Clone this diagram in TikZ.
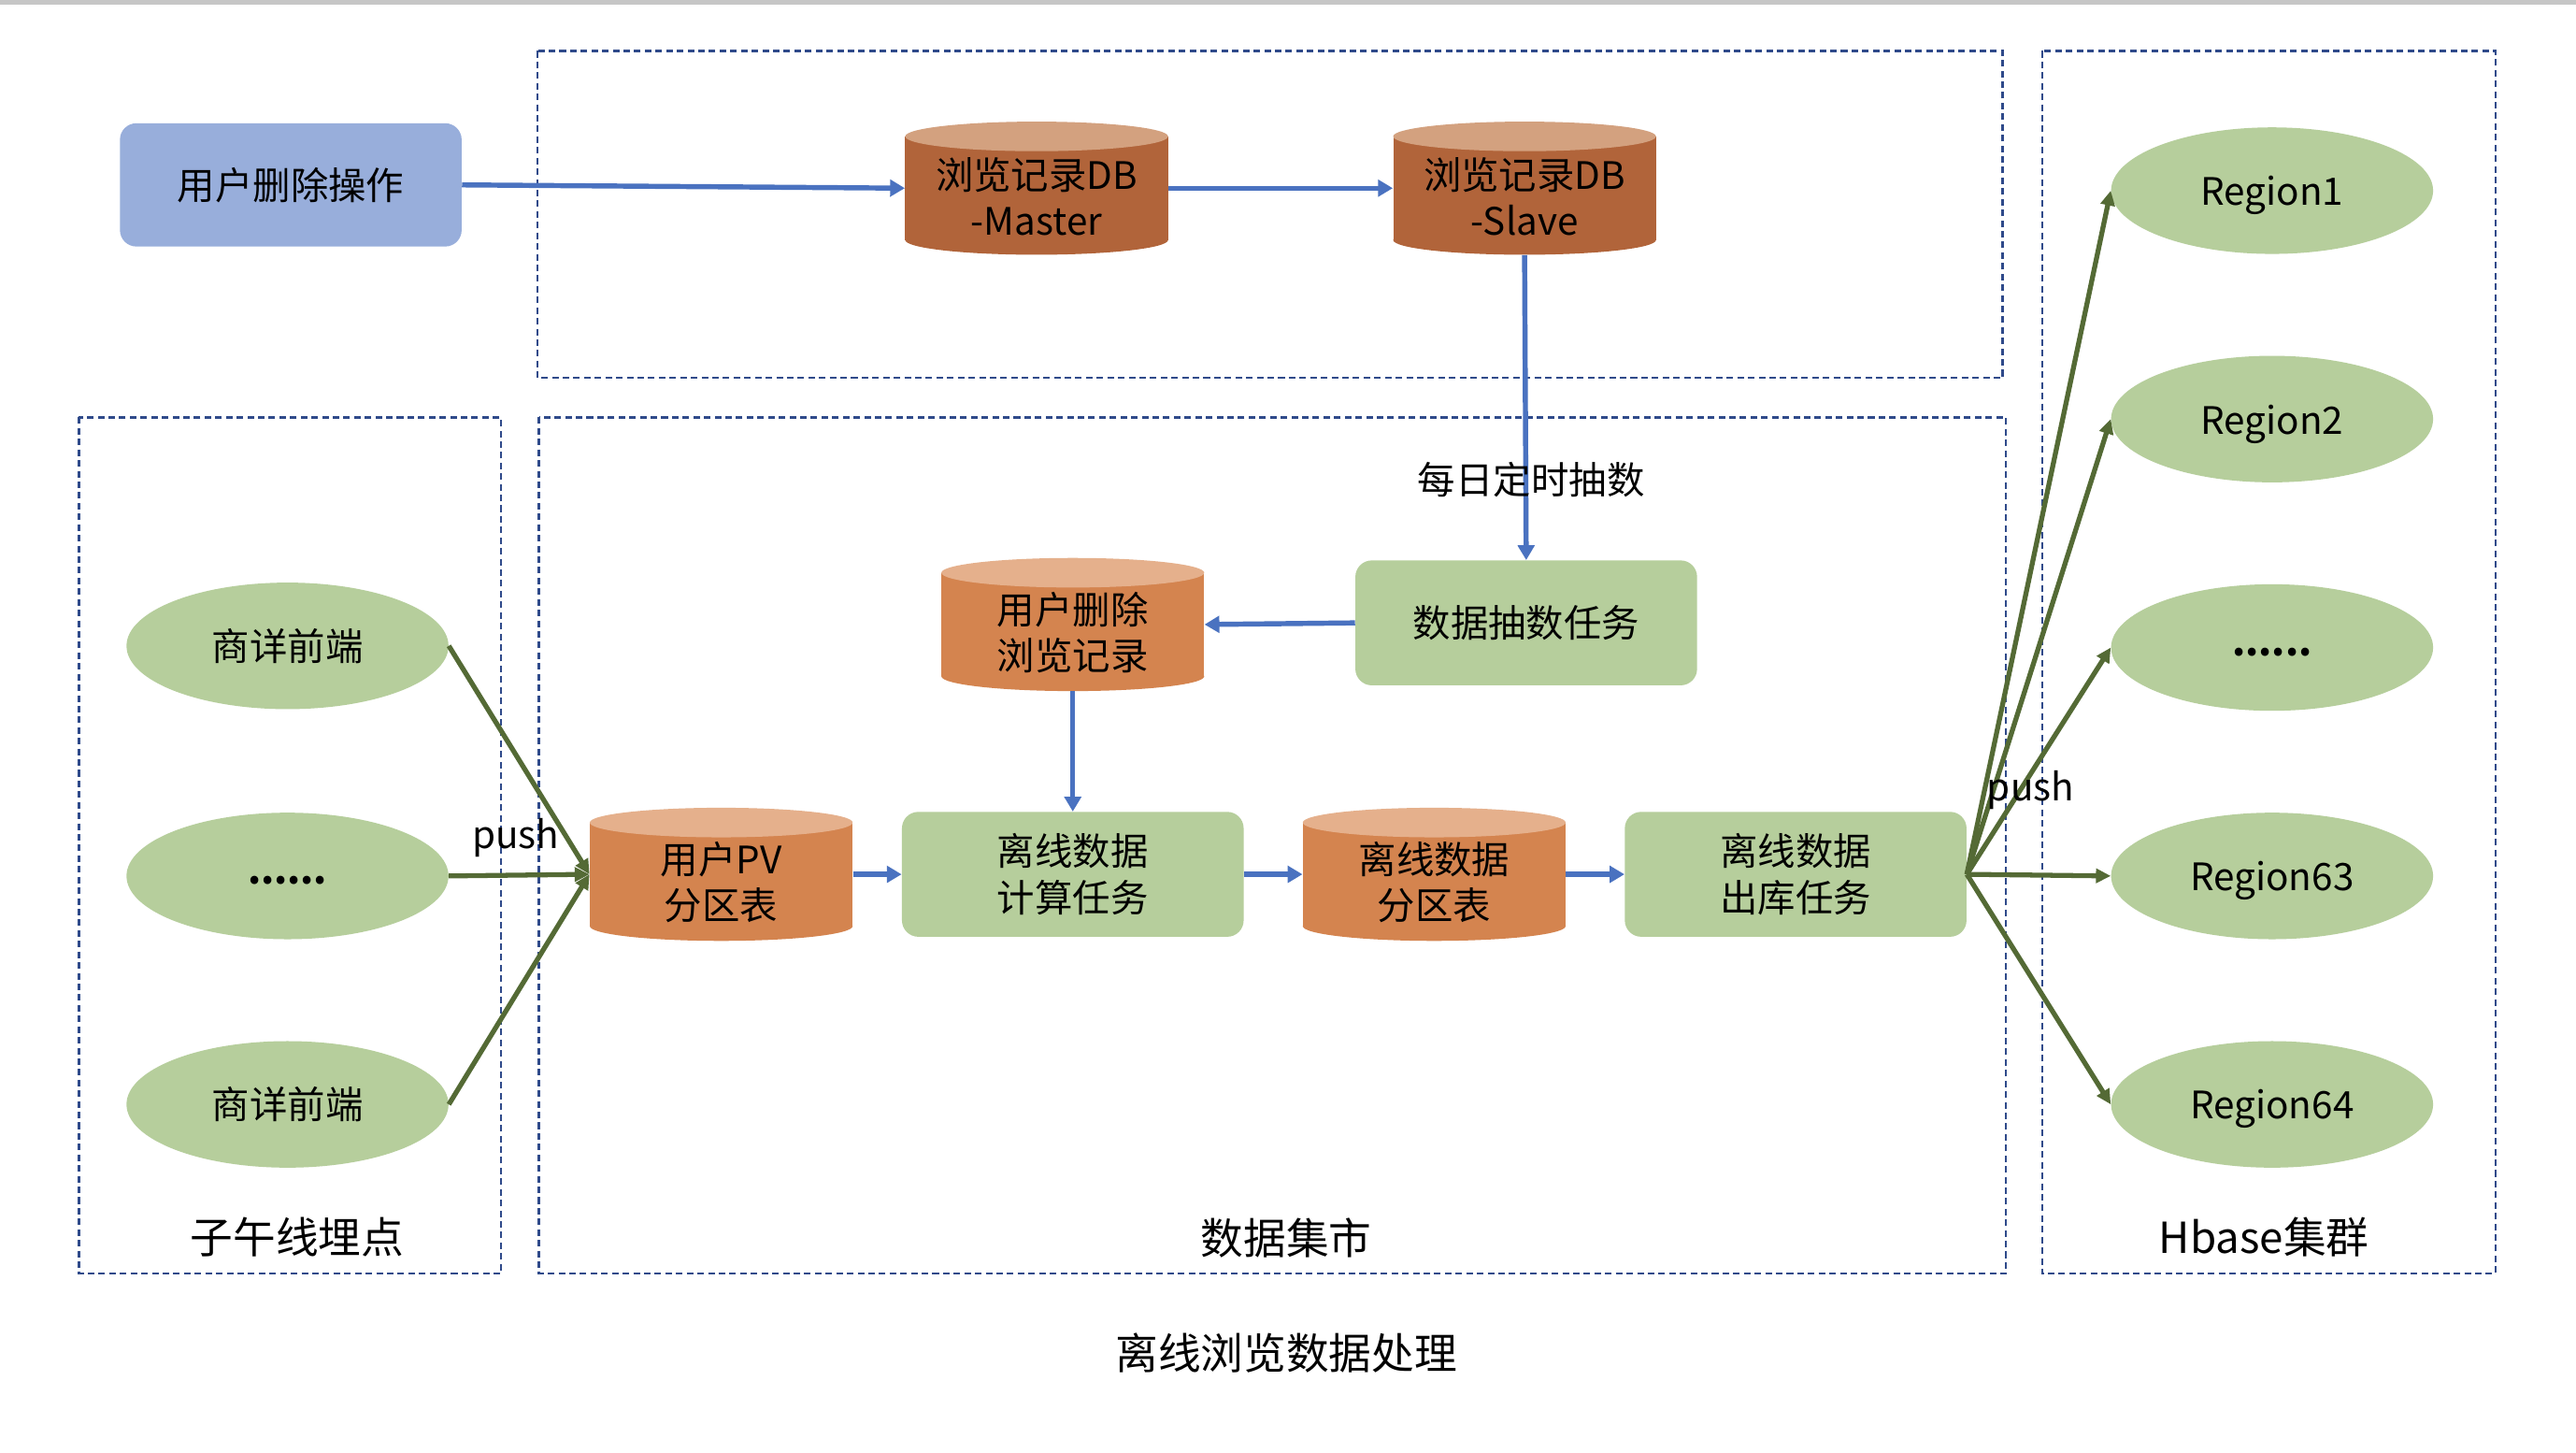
\documentclass[tikz,border=0pt]{standalone}
\usepackage{fontspec}
\setmainfont{Noto Sans CJK SC}
\usetikzlibrary{arrows.meta,shapes.geometric}
\definecolor{opblue}{HTML}{98AEDB}
\definecolor{dbdark}{HTML}{B1643A}
\definecolor{dbdarktop}{HTML}{D3A17F}
\definecolor{dblight}{HTML}{D4844F}
\definecolor{dblighttop}{HTML}{E5B08C}
\definecolor{taskgreen}{HTML}{B6CE9C}
\definecolor{arrowblue}{HTML}{4A72C0}
\definecolor{arrowgreen}{HTML}{546A35}
\definecolor{grpblue}{HTML}{2F4A8A}
\newcommand{\dbcyl}[6]{%
  \fill[#4] (#2-80,#3-31.5) rectangle (#2+80,#3+31.5);
  \fill[#4] (#2,#3+31.5) ellipse[x radius=80pt,y radius=9pt];
  \fill[#5] (#2,#3-31.5) ellipse[x radius=80pt,y radius=9pt];
  \node[inner sep=0,minimum width=160,minimum height=81] (#1) at (#2,#3) {};
  \node[txt] (#1-t) at (#2,#3+5) {#6};
}
\begin{document}
\begin{tikzpicture}[x=1pt,y=-1pt,
  txt/.style={font=\fontsize{23}{28}\selectfont,align=center,inner sep=0},
  title/.style={font=\fontsize{26}{30}\selectfont,inner sep=0},
  grp/.style={draw=grpblue,line width=1.3pt,dash pattern=on 4pt off 2.5pt},
  opbox/.style={txt,fill=opblue,rounded corners=10pt,minimum width=208,minimum height=75},
  task/.style={txt,fill=taskgreen,rounded corners=10pt,minimum width=208,minimum height=76},
  oval/.style={txt,ellipse,fill=taskgreen,minimum width=196,minimum height=77,text height=23pt,text depth=5pt},
  dots/.style={text height=15pt,text depth=5pt},
  barrow/.style={draw=arrowblue,line width=3.1pt,-{Triangle[length=9pt,width=10pt]}},
  garrow/.style={draw=arrowgreen,line width=3pt,-{Triangle[length=9pt,width=8.5pt]}},
  lbl/.style={font=\fontsize{23}{28}\selectfont,inner sep=0}]
\useasboundingbox (0,0) rectangle (1568,884);
\fill[white] (0,0) rectangle (1568,884);
\fill[gray!45] (0,0) rectangle (1568,3);

% groups
\draw[grp] (327,31) rectangle (1219,230);
\draw[grp] (1243,31) rectangle (1519,775);
\draw[grp] (48,254) rectangle (305,775);
\draw[grp] (328,254) rectangle (1221,775);

% top row
\node[opbox] (op) at (177,112.5) {用户删除操作};
\dbcyl{master}{631}{114.5}{dbdark}{dbdarktop}{浏览记录DB\\-Master}
\dbcyl{slave}{928}{114.5}{dbdark}{dbdarktop}{浏览记录DB\\-Slave}

% middle
\node[task] (extract) at (929,379) {数据抽数任务};
\dbcyl{deleted}{653}{380}{dblight}{dblighttop}{用户删除\\浏览记录}
\dbcyl{pv}{439}{532}{dblight}{dblighttop}{用户PV\\分区表}
\node[task] (calc) at (653,532) {离线数据\\计算任务};
\dbcyl{part}{873}{532}{dblight}{dblighttop}{离线数据\\分区表}
\node[task] (out) at (1093,532) {离线数据\\出库任务};

% left ovals
\node[oval] (fe1) at (175,393) {商详前端};
\node[oval,dots] (fe2) at (175,533) {\textbf{......}};
\node[oval] (fe3) at (175,672) {商详前端};

% right ovals
\node[oval] (r1) at (1383,116) {Region1};
\node[oval] (r2) at (1383,255) {Region2};
\node[oval,dots] (r3) at (1383,394) {\textbf{......}};
\node[oval] (r63) at (1383,533) {Region63};
\node[oval] (r64) at (1383,672) {Region64};

% blue connectors
\draw[barrow] (op.east) -- (master.west);
\draw[barrow] (master.east) -- (slave.west);
\draw[barrow] (slave.south) -- (extract.north);
\node[lbl] (daily) at (932,292) {每日定时抽数};
\draw[barrow] (extract.west) -- (deleted.east);
\draw[barrow] (deleted.south) -- (calc.north);
\draw[barrow] (pv.east) -- (calc.west);
\draw[barrow] (calc.east) -- (part.west);
\draw[barrow] (part.east) -- (out.west);

% green connectors
\draw[garrow] (fe1.east) -- (pv.west);
\draw[garrow] (fe2.east) -- (pv.west);
\draw[garrow] (fe3.east) -- (pv.west);
\node[lbl] (push1) at (314,510) {push};
\foreach \r in {r1,r2,r3,r63,r64}
  \draw[garrow] (out.east) -- (\r.west);
\node[lbl] (push2) at (1236,481) {push};

% titles
\node[title] (t1) at (181,753) {子午线埋点};
\node[title] (t2) at (783,753) {数据集市};
\node[title] (t3) at (1378,753) {Hbase集群};
\node[title] (t4) at (783,823) {离线浏览数据处理};
\end{tikzpicture}
\end{document}
